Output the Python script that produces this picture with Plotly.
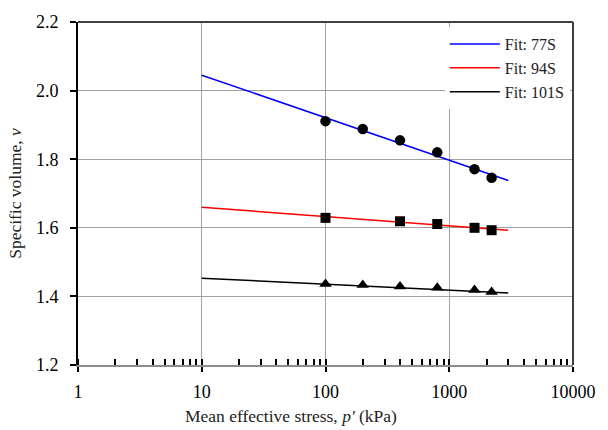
import plotly.graph_objects as go

# Measured specific volume v against mean effective stress p' (kPa)
p_77S = [100, 200, 400, 800, 1600, 2200]
v_77S = [1.911, 1.888, 1.855, 1.820, 1.771, 1.746]

p_94S = [100, 400, 800, 1600, 2200]
v_94S = [1.629, 1.619, 1.611, 1.600, 1.593]

p_101S = [100, 200, 400, 800, 1600, 2200]
v_101S = [1.436, 1.433, 1.429, 1.425, 1.419, 1.413]

# Straight-line fits in v - log(p') space, drawn between these stresses
fit_p = [10, 3000]
fit_77S = [2.045, 1.738]
fit_94S = [1.660, 1.593]
fit_101S = [1.453, 1.410]

x_ticks = [1, 10, 100, 1000, 10000]
y_ticks = [1.2, 1.4, 1.6, 1.8, 2.0, 2.2]

FONT = "Liberation Serif"
TICKFONT = dict(family=FONT, size=18, color="black")

fig = go.Figure()

# Fit lines (legend entries)
for name, v, color in [("Fit: 77S", fit_77S, "#0000ff"),
                       ("Fit: 94S", fit_94S, "#ff0000"),
                       ("Fit: 101S", fit_101S, "#000000")]:
    fig.add_trace(go.Scatter(x=fit_p, y=v, mode="lines", name=name,
                             line=dict(color=color, width=1.5)))

# Measured points
for p, v, sym, size in [(p_77S, v_77S, "circle", 10.5),
                        (p_94S, v_94S, "square", 10),
                        (p_101S, v_101S, "triangle-up", 11)]:
    fig.add_trace(go.Scatter(x=p, y=v, mode="markers", showlegend=False,
                             marker=dict(symbol=sym, size=size, color="black",
                                         line=dict(width=0))))

fig.update_layout(
    width=608, height=430,
    margin=dict(l=78, r=28, t=15, b=65),
    paper_bgcolor="white", plot_bgcolor="white",
    font=dict(family=FONT, size=18, color="black"),
    showlegend=True,
    legend=dict(x=0.741, y=0.985, xanchor="left", yanchor="top",
                bgcolor="white", borderwidth=0,
                font=dict(family=FONT, size=16, color="#222222"),
                itemwidth=50),
)

fig.update_xaxes(
    type="log", range=[0, 4],
    tickvals=x_ticks, ticktext=[str(t) for t in x_ticks],
    tickfont=TICKFONT,
    ticks="outside", ticklen=5, tickwidth=1.5, tickcolor="black",
    ticklabelstandoff=5,
    showgrid=True, gridcolor="#a0a0a0", gridwidth=1,
    showline=True, linecolor="#8c8c8c", linewidth=1.5,
    zeroline=False,
    minor=dict(ticks="inside", ticklen=6, tickwidth=1.5, tickcolor="black",
               dtick="D1", showgrid=False),
)

fig.update_yaxes(
    range=[1.2, 2.2], tickvals=y_ticks, tickformat=".1f",
    tickfont=TICKFONT,
    ticks="outside", ticklen=6, tickwidth=1.5, tickcolor="black",
    ticklabelstandoff=8,
    showgrid=True, gridcolor="#a0a0a0", gridwidth=1,
    showline=True, linecolor="black", linewidth=2,
    zeroline=False,
    title=dict(text="Specific volume, <i>v</i>", standoff=10,
               font=dict(family=FONT, size=17.5, color="#222222")),
)

# Frame on the top and right of the plotting area
fig.add_shape(type="line", xref="paper", yref="paper", x0=0, x1=1, y0=1, y1=1,
              line=dict(color="#404040", width=2))
fig.add_shape(type="line", xref="paper", yref="paper", x0=1, x1=1, y0=0, y1=1,
              line=dict(color="#404040", width=2))

# X-axis title
fig.add_annotation(text="Mean effective stress, <i>p'</i> (kPa)",
                   xref="paper", yref="paper", x=0.43, y=-0.15,
                   xanchor="center", yanchor="middle", showarrow=False,
                   font=dict(family=FONT, size=17.5, color="#222222"))

fig.write_html("out.html")
